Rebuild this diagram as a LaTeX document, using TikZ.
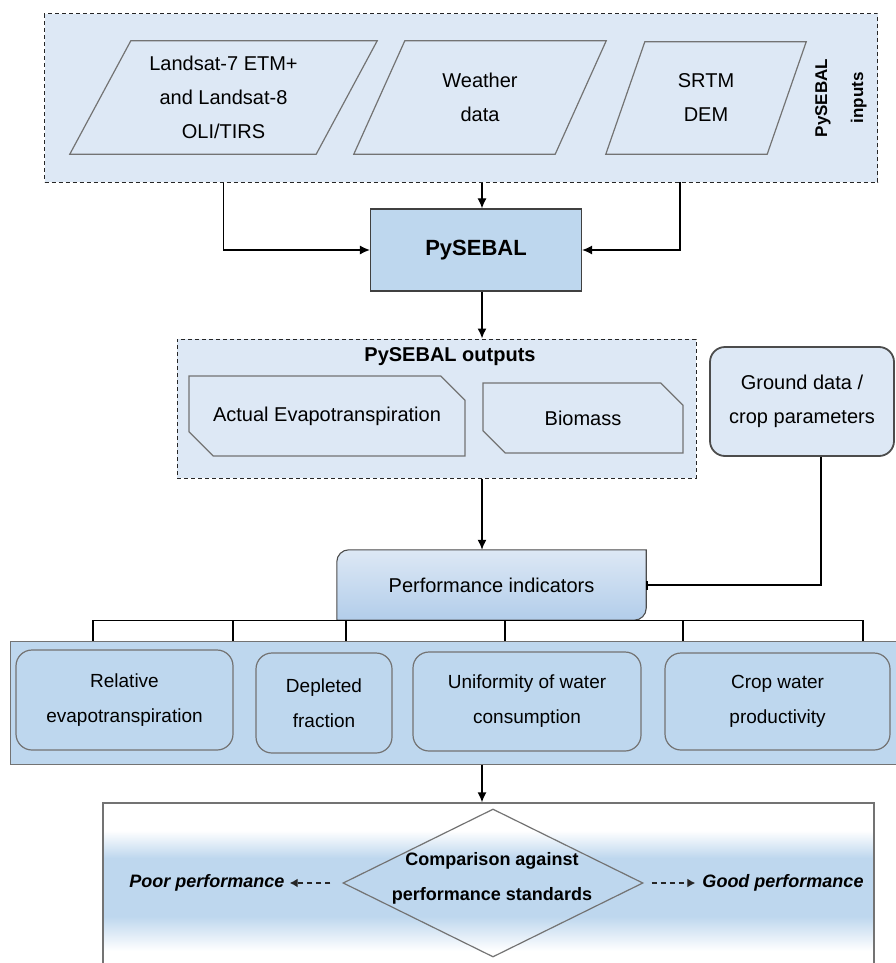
\documentclass[tikz,border=0pt]{standalone}
\usepackage{fontspec}
\setmainfont{Liberation Sans}
\usepackage{tikz}
\usetikzlibrary{shapes.geometric, shapes.misc, arrows.meta, positioning, backgrounds}
\definecolor{fondo}{RGB}{221,232,245}
\definecolor{azul}{RGB}{190,215,238}
\definecolor{hondo}{RGB}{178,205,234}
\definecolor{borde}{RGB}{115,115,115}
\pgfdeclareverticalshading{franja}{100bp}{color(0bp)=(white); color(32bp)=(white); color(42bp)=(azul); color(59bp)=(azul); color(67bp)=(white); color(100bp)=(white)}
\tikzset{
	x=1pt, y=-1pt, % un pixel de la figura
	texto/.style={font=\fontsize{20}{34}\selectfont, align=center}, % letra normal
	flecha/.style={-{Latex[length=10pt,width=9pt]}, line width=1.5pt}, % flechas gruesas
	conector/.style={-{Latex[length=10pt,width=9pt]}, line width=1.1pt}, % flechas finas
	linea/.style={line width=1.1pt}, % lineas sin punta
	discont/.style={-{Latex[length=8pt,width=9pt]}, line width=1.4pt, draw=black!85, dash pattern=on 5pt off 4pt}, % flechas punteadas
	grupo/.style={draw=black!85, fill=fondo, line width=1pt, dash pattern=on 4pt off 3pt, inner sep=0pt}, % cajas punteadas
	entrada/.style={texto, minimum height=113, inner sep=0pt}, % datos de entrada
	paralelo/.style={draw=borde, fill=fondo, line width=1.2pt}, % contorno de las entradas
	nucleo/.style={draw=black!75, fill=azul, line width=1.3pt, font=\bfseries\fontsize{22}{26}\selectfont}, % modelo
	producto/.style={texto, chamfered rectangle, chamfered rectangle corners={north east, south west}, chamfered rectangle xsep=10pt, chamfered rectangle ysep=15pt, draw=borde, fill=fondo, line width=1.2pt, inner sep=0pt}, % salidas
	dato/.style={texto, rounded corners=15pt, draw=black!70, fill=fondo, line width=1.8pt}, % datos de campo
	tarjeta/.style={texto, font=\fontsize{19}{35}\selectfont, rounded corners=16pt, draw=borde, fill=azul, line width=1.2pt}, % indicadores
	resultado/.style={font=\bfseries\itshape\fontsize{18}{22}\selectfont, inner sep=2pt} % resultado final
}

\begin{document}
\begin{tikzpicture}
	\useasboundingbox (0,0) rectangle (896,963);
	\coordinate (eje) at (482,0);
	% entradas
	\begin{scope}[on background layer]
		\node[grupo, minimum width=833, minimum height=168] (inputs) at (461,98) {};
	\end{scope}
	\node[entrada, minimum width=307] (landsat) at (223.5,97.5) {Landsat-7 ETM+\\and Landsat-8\\OLI/TIRS};
	\node[entrada, minimum width=252] (weather) at (480,97.5) {Weather\\data};
	\node[entrada, minimum width=200, minimum height=112] (srtm) at (706,98) {SRTM\\DEM};
	\begin{scope}[on background layer]
		\draw[paralelo] ([xshift=61]landsat.north west) -- (landsat.north east) -- ([xshift=-61]landsat.south east) -- (landsat.south west) -- cycle;
		\draw[paralelo] ([xshift=51]weather.north west) -- (weather.north east) -- ([xshift=-51]weather.south east) -- (weather.south west) -- cycle;
		\draw[paralelo] ([xshift=39]srtm.north west) -- (srtm.north east) -- ([xshift=-39]srtm.south east) -- (srtm.south west) -- cycle;
	\end{scope}
	\node[rotate=90, align=center, font=\bfseries\fontsize{17}{36}\selectfont] (lblin) at (841,98) {PySEBAL\\inputs};
	\node[nucleo, minimum width=211, minimum height=82] (pysebal) at (476,250) {PySEBAL};
	\coordinate (bajada) at (680,182);
	\draw[conector] (inputs.south -| eje) -- (pysebal.north -| eje);
	\draw[conector] (inputs.south -| landsat.south) |- (pysebal.west);
	\draw[conector] (bajada) |- (pysebal.east);
	% salidas
	\node[grupo, minimum width=519, minimum height=139] (salidas) at (436.5,408.5) {};
	\node[font=\bfseries\fontsize{20}{24}\selectfont] (titsal) at (450,357) {PySEBAL outputs};
	\node[producto, minimum width=276, minimum height=80] (eta) at (327,416) {Actual Evapotranspiration};
	\node[producto, minimum width=200, minimum height=70] (biomasa) at (583,418) {Biomass};
	\node[dato, minimum width=184, minimum height=109] (suelo) at (802,401.5) {Ground data /\\crop parameters};
	\draw[flecha] (pysebal.south -| eje) -- (salidas.north -| eje);
	% indicadores
	\node[minimum width=309, minimum height=70, inner sep=0pt] (indic) at (491.5,585) {};
	\path[draw=black!70, line width=1.1pt, top color=fondo, bottom color=hondo] (indic.south west) [rounded corners=12pt] -- (indic.north west) [sharp corners] -- (indic.north east) [rounded corners=12pt] -- (indic.south east) [sharp corners] -- cycle;
	\node[texto] (txtindic) at (indic) {Performance indicators};
	\draw[flecha] (salidas.south -| eje) -- (indic.north -| eje);
	\draw[linea, -{Bar[width=9pt,line width=2pt]}] ([xshift=19]suelo.south) |- (indic.east);
	\node[draw=borde, fill=azul, line width=1pt, minimum width=890, minimum height=123, inner sep=0pt] (banda) at (455,702.5) {};
	\draw[linea] (indic.south -| 93,0) -- (indic.south -| 863,0);
	\foreach \x in {93,233,346,505,683,863}
		\draw[linea] (indic.south -| \x,0) -- (banda.north -| \x,0);
	\node[tarjeta, minimum width=217, minimum height=100] (relativa) at (124.5,700) {Relative\\evapotranspiration};
	\node[tarjeta, minimum width=136, minimum height=100] (agotada) at (324,703) {Depleted\\fraction};
	\node[tarjeta, minimum width=228, minimum height=99] (uniforme) at (527,701.5) {Uniformity of water\\consumption};
	\node[tarjeta, minimum width=225, minimum height=97] (producti) at (777.5,701.5) {Crop water\\productivity};
	% comparacion
	\node[draw=borde, line width=1.2pt, shading=franja, minimum width=771, minimum height=172, inner sep=0pt] (caja) at (488.5,889) {};
	\draw[flecha] (banda.south -| eje) -- (caja.north -| eje);
	\node[diamond, draw=borde, line width=1.2pt, minimum width=300, minimum height=148, inner sep=0pt] (compara) at (493,883) {};
	\node[align=center, font=\bfseries\fontsize{18}{35}\selectfont] (txtcomp) at (492,878) {Comparison against\\performance standards};
	\node[resultado] (mal) at (207,883) {Poor performance};
	\node[resultado] (bien) at (783,883) {Good performance};
	\draw[discont, shorten <=12pt, shorten >=3pt] (compara.west) -- (mal.east);
	\draw[discont, shorten <=8pt, shorten >=5pt] (compara.east) -- (bien.west);
\end{tikzpicture}
\end{document}
